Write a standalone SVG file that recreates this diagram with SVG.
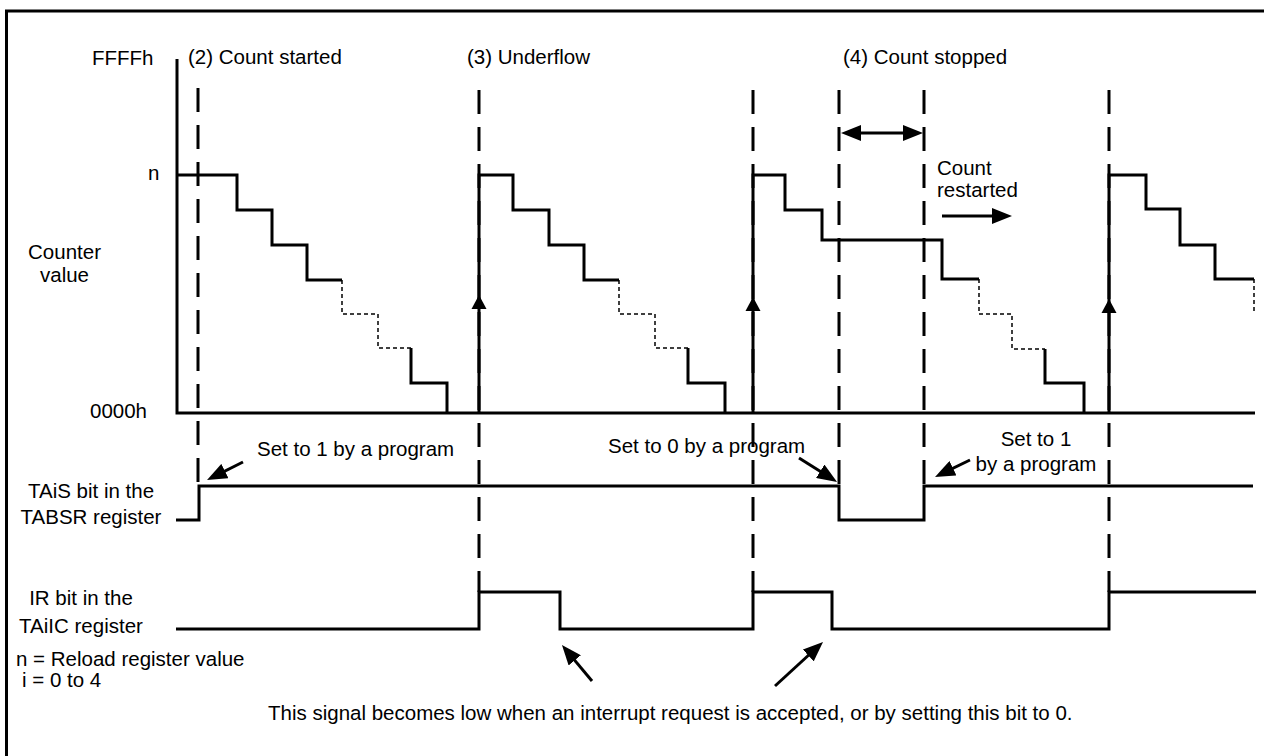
<svg xmlns="http://www.w3.org/2000/svg" width="1264" height="756" viewBox="0 0 1264 756">
<style>
text{font-family:"Liberation Sans",Arial,Helvetica,sans-serif;font-size:20.5px;fill:#000}
.mid{text-anchor:middle}
.ln{fill:none;stroke:#000;stroke-width:3;stroke-linejoin:miter;stroke-linecap:butt}
.dash{fill:none;stroke:#000;stroke-width:3;stroke-dasharray:24 13}
.dot{fill:none;stroke:#000;stroke-width:1.5;stroke-dasharray:4 3}
.ar{fill:none;stroke:#000;stroke-width:3;marker-end:url(#ah)}
</style>
<defs>
<marker id="ah" markerUnits="userSpaceOnUse" viewBox="0 0 20 16" markerWidth="20" markerHeight="16" refX="14" refY="8" orient="auto-start-reverse">
<path d="M0,0 L20,8 L0,16 z" fill="#000"/>
</marker>
<path id="up" d="M0,0 L7.5,14 L-7.5,14 z" fill="#000"/>
</defs>
<rect x="6.5" y="11" width="1280" height="770" fill="#fff" stroke="#000" stroke-width="3"/>

<g id="guides">
<line class="dash" x1="198" y1="88" x2="198" y2="486"/>
<line class="dash" x1="479" y1="90" x2="479" y2="592"/>
<line class="dash" x1="753" y1="90" x2="753" y2="592"/>
<line class="dash" x1="839" y1="90" x2="839" y2="486"/>
<line class="dash" x1="924" y1="90" x2="924" y2="486"/>
<line class="dash" x1="1109" y1="90" x2="1109" y2="592"/>
</g>

<g id="axes">
<path class="ln" d="M177,59 V413 H1255"/>
</g>

<g id="counter">
<path class="ln" d="M177,175 H237 V210 H272 V245 H307 V280 H342"/>
<path class="dot" d="M342,280 V314 H378 V348 H411"/>
<path class="ln" d="M411,348 V383 H447 V413"/>

<path class="ln" d="M479,413 V175 H513 V210 H549 V245 H584 V280 H619"/>
<path class="dot" d="M619,280 V314 H655 V348 H688"/>
<path class="ln" d="M688,348 V383 H725 V413"/>

<path class="ln" d="M753,413 V175 H785 V210 H822 V240 H942 V279 H979"/>
<path class="dot" d="M979,279 V314 H1012 V349 H1045"/>
<path class="ln" d="M1045,349 V383 H1084 V413"/>

<path class="ln" d="M1109,413 V175 H1146 V209 H1180 V245 H1215 V279 H1254"/>
<path class="dot" d="M1254,279 V314"/>

<use href="#up" x="479" y="295"/>
<use href="#up" x="753" y="297"/>
<use href="#up" x="1109" y="299"/>
</g>

<g id="tais">
<path class="ln" d="M176,520 H199 V486 H839 V520 H924 V486 H1253"/>
</g>

<g id="ir">
<path class="ln" d="M176,629 H479 V592 H560 V629 H753 V592 H832 V629 H1109 V592 H1256"/>
</g>

<g id="connectors">
<line class="ar" x1="847" y1="133" x2="917" y2="133" style="marker-start:url(#ah)"/>
<line class="ar" x1="942" y1="216" x2="1006" y2="216"/>
<line class="ar" x1="243" y1="462" x2="212.4" y2="477.3"/>
<line class="ar" x1="799" y1="458" x2="832" y2="478.8"/>
<line class="ar" x1="970" y1="460" x2="940.4" y2="474.4"/>
<line class="ar" x1="592" y1="681" x2="565.8" y2="649.6"/>
<line class="ar" x1="775" y1="686" x2="818.6" y2="646"/>
</g>

<g id="labels">
<text x="92" y="65">FFFFh</text>
<text x="188" y="64">(2) Count started</text>
<text x="467" y="64">(3) Underflow</text>
<text x="843" y="64">(4) Count stopped</text>
<text x="148" y="180">n</text>
<text class="mid" x="64.5" y="259">Counter</text>
<text class="mid" x="64.5" y="282">value</text>
<text x="90" y="418">0000h</text>
<text x="937" y="175">Count</text>
<text x="937" y="197">restarted</text>
<text x="257" y="456">Set to 1 by a program</text>
<text x="608" y="453">Set to 0 by a program</text>
<text class="mid" x="1036" y="446">Set to 1</text>
<text class="mid" x="1036" y="471">by a program</text>
<text class="mid" x="91" y="498">TAiS bit in the</text>
<text class="mid" x="91" y="524">TABSR register</text>
<text class="mid" x="81" y="605">IR bit in the</text>
<text class="mid" x="81" y="633">TAiIC register</text>
<text x="16" y="666">n = Reload register value</text>
<text x="22" y="687">i = 0 to 4</text>
<text x="268" y="720">This signal becomes low when an interrupt request is accepted, or by setting this bit to 0.</text>
</g>
</svg>
